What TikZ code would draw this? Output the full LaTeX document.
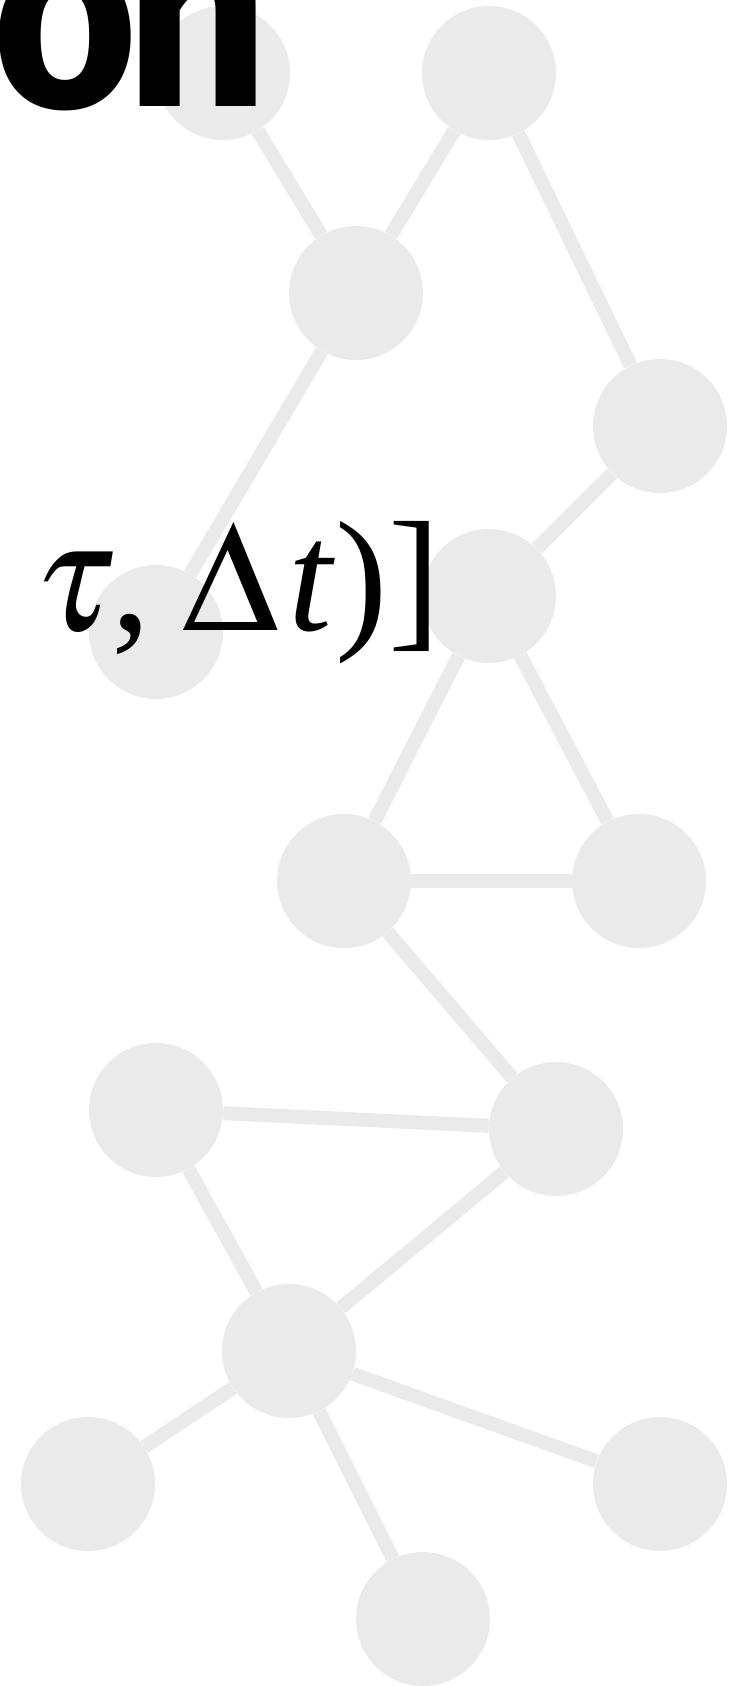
\documentclass[tikz,border=0pt]{standalone}
\usepackage{mathptmx}
\usepackage{fontspec}
\setmainfont{Liberation Serif}
\newfontfamily\titlefont{Fira Sans}
\usepackage{tikz}
\usetikzlibrary{positioning, calc}
\definecolor{nodegray}{HTML}{EAEAEA}

\begin{document}
\begin{tikzpicture}[
    x=0.02cm, y=-0.02cm,
    vtx/.style={circle, fill=nodegray, minimum size=2.68cm, inner sep=0pt},
    link/.style={draw=nodegray, line width=0.28cm},
    bigmath/.style={anchor=base west, inner sep=0pt,
                    font=\fontsize{89.5}{89.5}\selectfont},
    cut/.style={anchor=base west, inner sep=0pt,
                font=\titlefont\bfseries\fontsize{150}{150}\selectfont}
  ]
  \useasboundingbox (0,0) rectangle (739,1686);

  \node[vtx] (a) at (223,73) {};
  \node[vtx] (b) at (489,73) {};
  \node[vtx] (c) at (356,293) {};
  \node[vtx] (d) at (660,426) {};
  \node[vtx] (e) at (156,632) {};
  \node[vtx] (f) at (489,596) {};
  \node[vtx] (g) at (344,881) {};
  \node[vtx] (h) at (639,881) {};
  \node[vtx] (i) at (156,1110) {};
  \node[vtx] (j) at (556,1129) {};
  \node[vtx] (k) at (289,1351) {};
  \node[vtx] (l) at (88,1484) {};
  \node[vtx] (m) at (660,1484) {};
  \node[vtx] (n) at (423,1619) {};

  \draw[link] (a) -- (c);
  \draw[link] (b) -- (c);
  \draw[link] (b) -- (d);
  \draw[link] (c) -- (e);
  \draw[link] (d) -- (f);
  \draw[link] (f) -- (g);
  \draw[link] (f) -- (h);
  \draw[link] (g) -- (h);
  \draw[link] (g) -- (j);
  \draw[link] (i) -- (j);
  \draw[link] (i) -- (k);
  \draw[link] (j) -- (k);
  \draw[link] (k) -- (l);
  \draw[link] (k) -- (m);
  \draw[link] (k) -- (n);

  % cut-off title and formula tail lie over the graph
  \node[cut] (title) at (-9,107) {\scalebox{0.96}[1]{o\kern-0.06em n}};
  \node[bigmath] (args) at (34,630)
    {$\tau$\kern-0.03em,\kern0.2em$\Delta$\kern0.065em\textit{t})]};
\end{tikzpicture}
\end{document}
